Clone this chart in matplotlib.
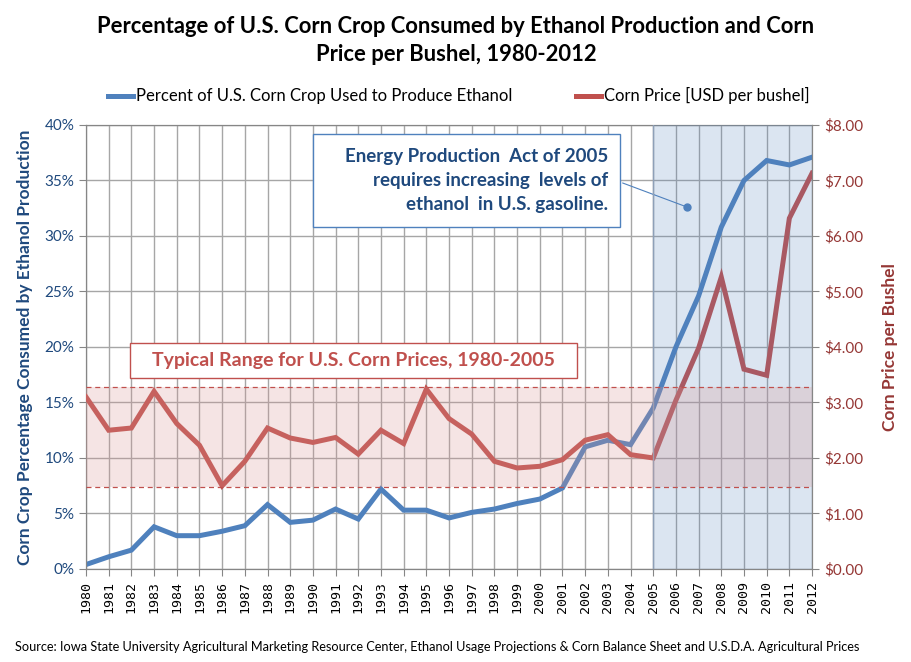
import matplotlib
matplotlib.use("Agg")
import matplotlib.pyplot as plt
from matplotlib.patches import Rectangle
from matplotlib.ticker import FuncFormatter, MultipleLocator

plt.rcParams['font.family'] = ['Lato', 'DejaVu Sans']

# data
years = list(range(1980, 2013))
pct_ethanol = [0.4, 1.1, 1.7, 3.8, 3.0, 3.0, 3.4, 3.9, 5.8, 4.2, 4.4, 5.4, 4.5,
               7.2, 5.3, 5.3, 4.6, 5.1, 5.4, 5.9, 6.3, 7.3, 11.0, 11.6, 11.2,
               14.5, 20.0, 24.6, 30.8, 35.0, 36.8, 36.4, 37.1]
corn_price = [3.10, 2.50, 2.54, 3.20, 2.62, 2.23, 1.50, 1.94, 2.54, 2.36, 2.28,
              2.37, 2.07, 2.50, 2.26, 3.24, 2.71, 2.43, 1.94, 1.82, 1.85, 1.97,
              2.32, 2.42, 2.06, 2.00, 3.04, 3.98, 5.26, 3.60, 3.49, 6.32, 7.13]
typical_low, typical_high = 1.47, 3.28
act_start, act_end = 2005, 2012
note_point = (2006.5, 32.6)

blue = '#4F81BD'
red = '#C0504D'
dark_blue = '#1F497D'
dark_red = '#953735'
grid_col = '#A6A6A6'

fig = plt.figure(figsize=(9.12, 6.62), dpi=100)
ax = fig.add_axes([0.0943, 0.1405, 0.7961, 0.6707])
ax2 = ax.twinx()

ax.set_xlim(1980, 2012)
ax.set_ylim(0, 40)
ax2.set_ylim(0, 8)

ax.set_xticks(years)
ax.set_xticklabels([str(y) for y in years], rotation=90, family='DejaVu Sans Mono',
                   fontsize=9.5)
ax.yaxis.set_major_locator(MultipleLocator(5))
ax.yaxis.set_major_formatter(FuncFormatter(lambda v, p: '%d%%' % v))
ax2.yaxis.set_major_locator(MultipleLocator(1))
ax2.yaxis.set_major_formatter(FuncFormatter(lambda v, p: '$%.2f' % v))

ax.grid(True, color=grid_col, lw=1)
ax.set_axisbelow(True)
for s in list(ax.spines.values()) + list(ax2.spines.values()):
    s.set_color('#868686')
ax.tick_params(axis='x', colors='#868686', labelcolor='black', length=5)
ax.tick_params(axis='y', colors='#868686', labelcolor=dark_blue, labelsize=11, length=5)
ax2.tick_params(axis='y', colors='#868686', labelcolor=dark_red, labelsize=11, length=5)

ln1, = ax.plot(years, pct_ethanol, color=blue, lw=3.6, solid_joinstyle='miter',
               label='Percent of U.S. Corn Crop Used to Produce Ethanol', zorder=3)
ln2, = ax2.plot(years, corn_price, color=red, lw=3.6, solid_joinstyle='miter',
                label='Corn Price [USD per bushel]', zorder=3)

# overlays
ax2.axvspan(act_start, act_end, color=blue, alpha=0.2, lw=0, zorder=4)
ax2.axhspan(typical_low, typical_high, color='#D99694', alpha=0.25, lw=0, zorder=5)
for v in (typical_low, typical_high):
    ax2.axhline(v, color=red, lw=0.9, ls=(0, (4, 3)), zorder=6)
ax2.axvline(act_start, color='#8EA0B8', lw=1, zorder=4)

ax.set_ylabel('Corn Crop Percentage Consumed by Ethanol Production', color=dark_blue,
              fontsize=12.5, fontweight='bold', labelpad=8)
ax2.set_ylabel('Corn Price per Bushel', color=dark_red, fontsize=12.5,
               fontweight='bold', labelpad=14)

# annotation box
ax2.add_patch(Rectangle((0.3127, 0.770), 0.4228, 0.210, transform=ax2.transAxes,
                        facecolor='white', edgecolor=blue, lw=1, zorder=8))
ax2.text(0.719, 0.875, 'Energy Production  Act of 2005\nrequires increasing  levels of\n'
         'ethanol  in U.S. gasoline.', transform=ax2.transAxes, ha='right', va='center',
         color=dark_blue, fontsize=13.5, fontweight='bold', linespacing=1.5, zorder=9)
ax.annotate('', xy=note_point, xytext=(0.7355, 0.8716), textcoords='axes fraction',
            arrowprops=dict(arrowstyle='-', color=blue, lw=0.8), zorder=9)
ax.plot([note_point[0]], [note_point[1]], 'o', color=blue, ms=5, zorder=9)

# typical range box
ax2.add_patch(Rectangle((0.0606, 0.430), 0.6154, 0.079, transform=ax2.transAxes,
                        facecolor='white', edgecolor=red, lw=1, zorder=8))
ax2.text(0.3683, 0.4695, 'Typical Range for U.S. Corn Prices, 1980-2005',
         transform=ax2.transAxes, ha='center', va='center', color=red,
         fontsize=14, fontweight='bold', zorder=9)

fig.text(0.5, 0.939, 'Percentage of U.S. Corn Crop Consumed by Ethanol Production and Corn\n'
         'Price per Bushel, 1980-2012', ha='center', va='center', fontsize=15.8,
         fontweight='bold', linespacing=1.45)
fig.legend(handles=[ln1, ln2], loc='center', bbox_to_anchor=(0.503, 0.855), ncol=2,
           frameon=False, fontsize=12, handlelength=1.5, handletextpad=0.2,
           columnspacing=3.8)
fig.text(0.016, 0.022, 'Source: Iowa State University Agricultural Marketing Resource Center, '
         'Ethanol Usage Projections & Corn Balance Sheet and U.S.D.A. Agricultural Prices',
         ha='left', va='center', fontsize=9.2)

fig.savefig('out.png', dpi=100)
